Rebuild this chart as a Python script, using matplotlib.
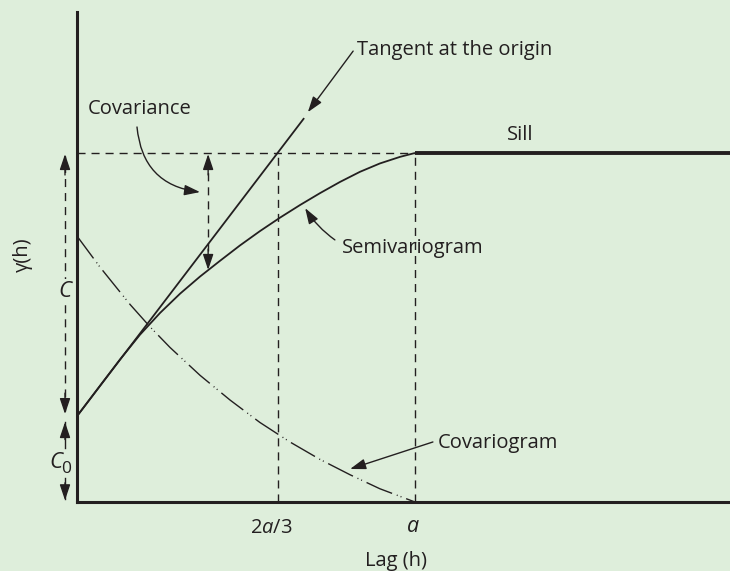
import matplotlib.pyplot as plt
import numpy as np

plt.rcParams['font.family'] = ['Open Sans', 'DejaVu Sans']
plt.rcParams['lines.scale_dashes'] = False
plt.rcParams['mathtext.fontset'] = 'custom'
plt.rcParams['mathtext.rm'] = 'Open Sans'
plt.rcParams['mathtext.it'] = 'Open Sans:italic'

INK = '#231f20'
BG = '#deeedb'
FS = 14.5

# range a = 1, sill = 1, nugget C0
a = 1.0
sill = 1.0
c0 = 0.246

# semivariogram (lag, gamma)
h_semi = [0.0, 0.068, 0.127, 0.186, 0.246, 0.305, 0.364, 0.423, 0.482, 0.541,
          0.601, 0.660, 0.719, 0.778, 0.837, 0.896, 0.956, 1.0]
g_semi = [0.246, 0.333, 0.408, 0.479, 0.542, 0.597, 0.646, 0.691, 0.735, 0.776,
          0.815, 0.851, 0.885, 0.917, 0.946, 0.970, 0.989, 1.0]

# covariogram C(h)
h_cov = [0.0, 0.068, 0.157, 0.216, 0.275, 0.364, 0.453, 0.541, 0.630, 0.719, 0.808, 0.896, 1.0]
c_cov = [0.762, 0.673, 0.566, 0.502, 0.443, 0.363, 0.292, 0.228, 0.172, 0.122, 0.078, 0.038, 0.0]

# tangent at the origin
h_tan = [0.0, 0.672]
g_tan = [0.246, 1.100]

h_max = 1.932
g_max = 1.404
h_23 = 0.595   # where the tangent reaches the sill (2a/3)
h_covar = 0.388  # lag of the covariance arrow

fig = plt.figure(figsize=(7.3, 5.71), dpi=100, facecolor=BG)
ax = fig.add_axes([77 / 730, 69 / 571, 653 / 730, 490 / 571])
ax.set_facecolor(BG)
ax.set_xlim(0, h_max)
ax.set_ylim(0, g_max)
for s in ['top', 'right']:
    ax.spines[s].set_visible(False)
for s in ['left', 'bottom']:
    ax.spines[s].set_linewidth(2.2)
    ax.spines[s].set_color(INK)
ax.set_xticks([])
ax.set_yticks([])

dash = (0, (5.8, 4.3))
lw_d = 1.0
head_style = '-|>,head_length=0.95,head_width=0.32'

# curves
ax.plot(h_semi, g_semi, color=INK, lw=1.3, solid_capstyle='butt')
ax.plot(h_tan, g_tan, color=INK, lw=1.3, solid_capstyle='butt')
ax.plot(h_cov, c_cov, color=INK, lw=1.0, linestyle=(0, (20, 3.6, 0.7, 2.2, 0.7, 3.6)))
ax.plot([a, h_max], [sill, sill], color=INK, lw=2.8, solid_capstyle='butt')

# guide lines
ax.plot([0, a], [sill, sill], color=INK, lw=lw_d, linestyle=dash)
ax.plot([h_23, h_23], [0, sill], color=INK, lw=lw_d, linestyle=dash)
ax.plot([a, a], [0, sill], color=INK, lw=lw_d, linestyle=dash)


def arrow(tail, tip, rad=0.0):
    ax.annotate('', xy=tip, xytext=tail, annotation_clip=False,
                arrowprops=dict(arrowstyle=head_style, color=INK, lw=1.0,
                                shrinkA=0, shrinkB=0,
                                connectionstyle=f'arc3,rad={rad}'))


def head(x, y, dy):
    arrow((x, y + dy), (x, y))


# C and C0 dimension arrows left of the axis
hx = -0.0355
ax.plot([hx, hx], [0.26, 0.99], color=INK, lw=lw_d, linestyle=dash, clip_on=False)
head(hx, 0.997, -0.06)
head(hx, 0.252, 0.06)
ax.text(hx, 0.602, 'C', style='italic', fontsize=FS + 1.5, color=INK, ha='center', va='center',
        bbox=dict(facecolor=BG, edgecolor='none', pad=1.5))
ax.plot([hx, hx], [0.23, 0.155], color=INK, lw=lw_d, clip_on=False)
ax.plot([hx, hx], [0.07, 0.01], color=INK, lw=lw_d, clip_on=False)
head(hx, 0.229, -0.05)
head(hx, 0.005, 0.05)
ax.text(-0.0636, 0.097, 'C', style='italic', fontsize=FS + 1.5, color=INK,
        ha='center', va='baseline')
ax.text(-0.031, 0.083, '0', fontsize=FS - 2, color=INK, ha='center', va='baseline')

# covariance arrow
ax.plot([h_covar, h_covar], [0.68, 0.98], color=INK, lw=lw_d, linestyle=dash)
head(h_covar, 0.997, -0.06)
head(h_covar, 0.665, 0.06)

# labels and their pointers
ax.text(0.0325, 1.112, 'Covariance', fontsize=FS, color=INK, ha='left', va='baseline')
arrow((0.1775, 1.0745), (0.364, 0.888), rad=0.4)

ax.text(0.828, 1.281, 'Tangent at the origin', fontsize=FS, color=INK, ha='left', va='baseline')
arrow((0.817, 1.292), (0.683, 1.117))

ax.text(0.784, 0.713, 'Semivariogram', fontsize=FS, color=INK, ha='left', va='baseline')
arrow((0.763, 0.751), (0.675, 0.842), rad=-0.1)

ax.text(1.068, 0.155, 'Covariogram', fontsize=FS, color=INK, ha='left', va='baseline')
arrow((1.053, 0.172), (0.808, 0.0946))

ax.text(1.272, 1.037, 'Sill', fontsize=FS, color=INK, ha='left', va='baseline')

# lag axis labels
ax.text(0.574, -0.088, r'2$\mathit{a}$/3', fontsize=FS, color=INK, ha='center', va='baseline')
ax.text(0.994, -0.086, 'a', style='italic', fontsize=FS + 1, color=INK, ha='center', va='baseline')
ax.text(0.944, -0.182, 'Lag (h)', fontsize=FS, color=INK, ha='center', va='baseline')
ax.text(-0.160, 0.708, 'γ(h)', fontsize=FS, color=INK, ha='center', va='center', rotation=90)

fig.savefig('out.png', dpi=100, facecolor=BG)
